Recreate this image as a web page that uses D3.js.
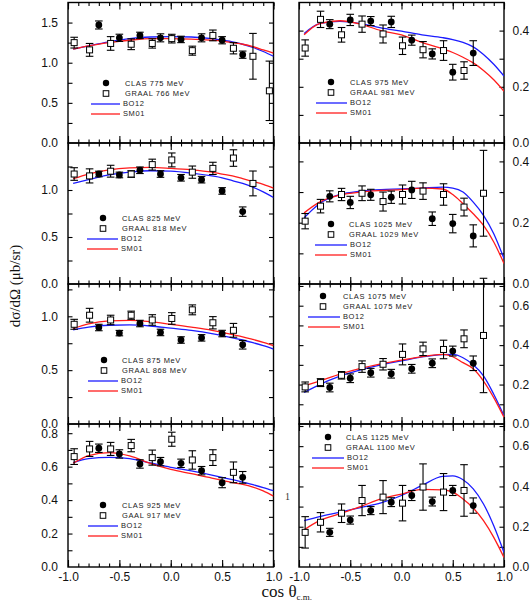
<!DOCTYPE html>
<html><head><meta charset="utf-8">
<script src="https://cdn.jsdelivr.net/npm/d3@7/dist/d3.min.js"></script>
<style>body{margin:0;background:#fff}svg{display:block}</style>
</head><body>
<script>
// ---------------- DATA ----------------
const cosClas  = [-0.7,-0.5,-0.3,-0.1,0.1,0.3,0.5,0.7];
const cosGraal = [-0.94,-0.79,-0.585,-0.385,-0.18,0.01,0.21,0.41,0.61,0.80,0.96];
const cosCurve = [-0.95,-0.8,-0.6,-0.4,-0.2,0,0.2,0.4,0.5,0.6,0.7,0.8,0.9,1.0];

const clasLabels  = ["CLAS 775 MeV","CLAS 825 MeV","CLAS 875 MeV","CLAS 925 MeV","CLAS 975 MeV","CLAS 1025 MeV","CLAS 1075 MeV","CLAS 1125 MeV"];
const graalLabels = ["GRAAL 766 MeV","GRAAL 818 MeV","GRAAL 868 MeV","GAAL 917 MeV","GRAAL 981 MeV","GRAAL 1029 MeV","GRAAL 1075 MeV","GRAAL 1100 MeV"];
const modelLabels = ["BO12","SM01"];

const clas775  = [1.47,1.31,1.34,1.31,1.29,1.31,1.28,1.10];
const clas825  = [1.17,1.16,1.21,1.17,1.13,1.11,0.99,0.77];
const clas875  = [0.896,0.844,0.933,0.85,0.78,0.80,0.84,0.736];
const clas925  = [0.71,0.676,0.616,0.63,0.62,0.576,0.504,0.536];
const clas975  = [0.423,0.438,0.434,0.431,0.366,0.317,0.252,0.320];
const clas1025 = [0.286,0.266,0.291,0.283,0.307,0.213,0.197,0.157];
const clas1075 = [0.185,0.232,0.26,0.255,0.28,0.308,0.37,0.308];
const clas1125 = [0.172,0.233,0.28,0.322,0.355,0.325,0.38,0.305];

const clasErr775  = [0.05,0.045,0.04,0.05,0.04,0.05,0.045,0.045];
const clasErr825  = [0.03,0.03,0.035,0.035,0.035,0.035,0.035,0.05];
const clasErr875  = [0.03,0.025,0.03,0.03,0.03,0.03,0.03,0.04];
const clasErr925  = [0.025,0.025,0.025,0.025,0.025,0.025,0.03,0.035];
const clasErr975  = [0.016,0.02,0.016,0.02,0.018,0.018,0.028,0.044];
const clasErr1025 = [0.018,0.02,0.018,0.02,0.028,0.022,0.03,0.036];
const clasErr1075 = [0.022,0.022,0.022,0.022,0.022,0.022,0.025,0.037];
const clasErr1125 = [0.02,0.02,0.02,0.022,0.025,0.022,0.025,0.038];

const graal766  = [1.25,1.16,1.24,1.23,1.24,1.30,1.15,1.34,1.18,1.08,0.65];
const graal818  = [1.17,1.15,1.20,1.17,1.27,1.32,1.19,1.23,1.34,1.07];
const graal868  = [0.926,1.01,0.966,1.01,0.966,0.98,1.06,0.94,0.87];
const graal917  = [0.66,0.706,0.706,0.726,0.654,0.764,0.64,0.654,0.566];
const graal981  = [0.338,0.44,0.385,0.423,0.388,0.346,0.332,0.329,0.258];
const graal1029 = [0.205,0.254,0.292,0.296,0.269,0.292,0.303,0.292,0.251,0.296];
const graal1075 = [0.188,0.21,0.247,0.291,0.303,0.353,0.381,0.378,0.432,0.449];
const graal1100 = [0.172,0.222,0.267,0.33,0.347,0.317,0.397,0.372,0.38];

const graalErr766  = [0.067,0.08,0.085,0.067,0.058,0.054,0.056,0.067,0.07,0.285,0.37];
const graalErr818  = [0.067,0.075,0.063,0.035,0.058,0.074,0.065,0.065,0.088,0.132];
const graalErr868  = [0.046,0.064,0.044,0.038,0.049,0.054,0.046,0.057,0.064];
const graalErr917  = [0.047,0.045,0.039,0.037,0.045,0.042,0.055,0.047,0.062];
const graalErr981  = [0.029,0.029,0.026,0.029,0.032,0.031,0.029,0.035,0.031];
const graalErr1029 = [0.025,0.022,0.02,0.024,0.031,0.031,0.027,0.035,0.029,0.14];
const graalErr1075 = [0.025,0.02,0.019,0.029,0.029,0.053,0.034,0.047,0.045,0.29];
const graalErr1100 = [0.078,0.048,0.046,0.075,0.082,0.088,0.115,0.092,0.128];

const bo775  = [1.17,1.21,1.26,1.30,1.32,1.325,1.32,1.30,1.28,1.26,1.23,1.19,1.14,1.08];
const sm775  = [1.17,1.21,1.25,1.28,1.30,1.30,1.295,1.28,1.27,1.25,1.23,1.20,1.16,1.12];
const bo825  = [1.07,1.11,1.16,1.19,1.205,1.20,1.18,1.15,1.13,1.10,1.07,1.03,0.98,0.92];
const sm825  = [1.12,1.17,1.215,1.235,1.24,1.23,1.215,1.19,1.17,1.15,1.12,1.09,1.06,1.02];
const bo875  = [0.874,0.90,0.917,0.92,0.91,0.89,0.87,0.84,0.82,0.80,0.78,0.755,0.727,0.696];
const sm875  = [0.886,0.93,0.958,0.962,0.95,0.926,0.90,0.87,0.85,0.83,0.81,0.785,0.758,0.727];
const bo925  = [0.624,0.648,0.656,0.648,0.622,0.596,0.575,0.55,0.536,0.522,0.508,0.492,0.475,0.456];
const sm925  = [0.62,0.666,0.684,0.664,0.62,0.584,0.558,0.532,0.518,0.505,0.494,0.478,0.455,0.424];
const bo975  = [0.39,0.425,0.433,0.425,0.41,0.398,0.385,0.375,0.368,0.358,0.342,0.315,0.28,0.238];
const sm975  = [0.385,0.425,0.435,0.423,0.40,0.385,0.358,0.335,0.322,0.305,0.285,0.258,0.225,0.184];
const bo1025 = [0.216,0.262,0.292,0.303,0.308,0.31,0.313,0.316,0.313,0.30,0.267,0.224,0.164,0.083];
const sm1025 = [0.232,0.267,0.29,0.30,0.305,0.308,0.313,0.31,0.292,0.262,0.229,0.191,0.137,0.067];
const bo1075 = [0.16,0.20,0.243,0.275,0.30,0.32,0.34,0.352,0.353,0.336,0.30,0.244,0.151,0.042];
const sm1075 = [0.193,0.218,0.253,0.282,0.305,0.324,0.342,0.353,0.341,0.311,0.28,0.218,0.134,0.034];
const bo1125 = [0.23,0.25,0.272,0.295,0.318,0.355,0.405,0.45,0.452,0.433,0.388,0.313,0.205,0.072];
const sm1125 = [0.185,0.23,0.265,0.30,0.338,0.362,0.385,0.383,0.372,0.338,0.293,0.23,0.147,0.047];

const yMax = [1.75,1.5,1.3,0.855, 0.5,0.46,0.71,0.71];
const xTickValues = [-1,-0.5,0,0.5,1];
const xTickLabels = ["-1.0","-0.5","0.0","0.5","1.0"];

// ---------------- LAYOUT ----------------
const W = 532, H = 615;
const colX = [[68,273.5],[299,504]];
const rowY = [[2.5,143],[143,284],[284,424],[424,567]];
const legendPos = [
  {cx:38,cy:80.5,tx:57,l1:[23,52]},{cx:35,cy:75,tx:54,l1:[19,50]},
  {cx:36,cy:76,tx:54,l1:[20,50]},{cx:35,cy:81,tx:54,l1:[20,50]},
  {cx:32,cy:79.5,tx:51,l1:[17,48]},{cx:32,cy:81,tx:50,l1:[16,48]},
  {cx:24,cy:12,tx:44,l1:[9,41]},{cx:29,cy:13,tx:47,l1:[13,45]}
];
const BLUE = "#1c1cff", RED = "#ff1c1c";

const clasAll = [clas775,clas825,clas875,clas925,clas975,clas1025,clas1075,clas1125];
const clasErrAll = [clasErr775,clasErr825,clasErr875,clasErr925,clasErr975,clasErr1025,clasErr1075,clasErr1125];
const graalAll = [graal766,graal818,graal868,graal917,graal981,graal1029,graal1075,graal1100];
const graalErrAll = [graalErr766,graalErr818,graalErr868,graalErr917,graalErr981,graalErr1029,graalErr1075,graalErr1100];
const boAll = [bo775,bo825,bo875,bo925,bo975,bo1025,bo1075,bo1125];
const smAll = [sm775,sm825,sm875,sm925,sm975,sm1025,sm1075,sm1125];

const svg = d3.select("body").append("svg").attr("width",W).attr("height",H);
const fmt = d => (d<0?"-":"") + Math.abs(d).toFixed(1);
const tickFont = "'Liberation Sans', Arial, sans-serif";

for (let i=0;i<8;i++){
  const col = i<4?0:1, row = i%4;
  const [x0,x1] = colX[col], [y0,y1] = rowY[row];
  const x = d3.scaleLinear().domain([-1,1]).range([x0,x1]);
  const y = d3.scaleLinear().domain([0,yMax[i]]).range([y1,y0]);
  const g = svg.append("g");
  const fine = (col===1 || row===3);
  const minorStep = fine?0.1:0.25, labStep = fine?0.2:0.5;
  const yTicks = d3.range(0, yMax[i]-0.005, minorStep).map(v=>+v.toFixed(3)).filter(v=>v>0);
  const yLabs = d3.range(0, yMax[i]-0.02, labStep).map(v=>+v.toFixed(3));
  const xMinor = d3.range(-1,1.0001,0.1).map(v=>+v.toFixed(2));

  const clean = sel => { sel.select(".domain").remove(); sel.selectAll("line").attr("stroke","#000").attr("stroke-width",1.1); };
  g.append("g").attr("transform",`translate(${x0},0)`).call(d3.axisLeft(y).tickValues(yTicks).tickSize(-4.5).tickFormat("")).call(clean);
  g.append("g").attr("transform",`translate(${x1},0)`).call(d3.axisRight(y).tickValues(yTicks).tickSize(-4.5).tickFormat("")).call(clean);
  [[d3.axisBottom,y1],[d3.axisTop,y0]].forEach(([ax,yy])=>{
    g.append("g").attr("transform",`translate(0,${yy})`).call(ax(x).tickValues(xMinor).tickSize(-3.5).tickFormat("")).call(clean);
    g.append("g").attr("transform",`translate(0,${yy})`).call(ax(x).tickValues(xTickValues).tickSize(-7).tickFormat("")).call(clean);
  });
  const yl = g.append("g");
  if (col===0) yl.attr("transform",`translate(${x0},0)`).call(d3.axisLeft(y).tickValues(yLabs).tickSize(0).tickPadding(10).tickFormat(fmt));
  else yl.attr("transform",`translate(${x1},0)`).call(d3.axisRight(y).tickValues(yLabs).tickSize(0).tickPadding(8.5).tickFormat(fmt));
  yl.select(".domain").remove();
  yl.selectAll("text").attr("font-size",12).attr("font-family",tickFont).attr("fill","#111");
  if (row===3){
    const xl = g.append("g").attr("transform",`translate(0,${y1})`)
      .call(d3.axisBottom(x).tickValues(xTickValues).tickSize(0).tickPadding(5).tickFormat((d,k)=>xTickLabels[k]));
    xl.select(".domain").remove();
    xl.selectAll("text").attr("font-size",12).attr("font-family",tickFont).attr("fill","#111");
  }
  g.append("rect").attr("x",x0).attr("y",y0).attr("width",x1-x0).attr("height",y1-y0)
    .attr("fill","none").attr("stroke","#000").attr("stroke-width",1.4);

  const clipId = "clip"+i;
  svg.append("clipPath").attr("id",clipId).append("rect").attr("x",x0).attr("y",y0).attr("width",x1-x0).attr("height",y1-y0);
  const line = d3.line().x(d=>x(d[0])).y(d=>y(d[1])).curve(d3.curveMonotoneX);
  g.append("path").datum(cosCurve.map((c,k)=>[c,boAll[i][k]])).attr("d",line)
    .attr("fill","none").attr("stroke",BLUE).attr("stroke-width",1.3).attr("clip-path",`url(#${clipId})`);
  g.append("path").datum(cosCurve.map((c,k)=>[c,smAll[i][k]])).attr("d",line)
    .attr("fill","none").attr("stroke",RED).attr("stroke-width",1.3).attr("clip-path",`url(#${clipId})`);

  const drawErr = (cs, vs, es) => {
    vs.forEach((v,k)=>{
      const cx = x(cs[k]), ya = y(v+es[k]), yb = y(v-es[k]);
      const eg = g.append("g").attr("stroke","#000").attr("stroke-width",1.1);
      eg.append("line").attr("x1",cx).attr("x2",cx).attr("y1",ya).attr("y2",yb);
      eg.append("line").attr("x1",cx-3.8).attr("x2",cx+3.8).attr("y1",ya).attr("y2",ya);
      eg.append("line").attr("x1",cx-3.8).attr("x2",cx+3.8).attr("y1",yb).attr("y2",yb);
    });
  };
  drawErr(cosGraal, graalAll[i], graalErrAll[i]);
  drawErr(cosClas, clasAll[i], clasErrAll[i]);
  g.selectAll(null).data(graalAll[i]).join("rect")
    .attr("x",(d,k)=>x(cosGraal[k])-3).attr("y",d=>y(d)-3).attr("width",6).attr("height",6)
    .attr("fill","#fff").attr("stroke","#000").attr("stroke-width",1);
  g.selectAll(null).data(clasAll[i]).join("circle")
    .attr("cx",(d,k)=>x(cosClas[k])).attr("cy",d=>y(d)).attr("r",3.4).attr("fill","#000");

  const L = legendPos[i], lx = x0, ly = y0;
  const lg = g.append("g").attr("transform",`translate(${lx},${ly})`);
  const tstyle = s => s.attr("font-size",7.5).attr("font-family",tickFont).attr("letter-spacing","0.6px").attr("fill","#222").attr("dominant-baseline","central");
  lg.append("circle").attr("cx",L.cx).attr("cy",L.cy).attr("r",3.2).attr("fill","#000");
  lg.append("text").attr("x",L.tx).attr("y",L.cy).text(clasLabels[i]).call(tstyle);
  lg.append("rect").attr("x",L.cx-2.8).attr("y",L.cy+10.5-2.8).attr("width",5.6).attr("height",5.6).attr("fill","#fff").attr("stroke","#000").attr("stroke-width",1);
  lg.append("text").attr("x",L.tx).attr("y",L.cy+10.5).text(graalLabels[i]).call(tstyle);
  lg.append("line").attr("x1",L.l1[0]).attr("x2",L.l1[1]).attr("y1",L.cy+21).attr("y2",L.cy+21).attr("stroke",BLUE).attr("stroke-width",1.3);
  lg.append("text").attr("x",L.l1[1]+3).attr("y",L.cy+20).text(modelLabels[0]).call(tstyle);
  lg.append("line").attr("x1",L.l1[0]).attr("x2",L.l1[1]).attr("y1",L.cy+31).attr("y2",L.cy+31).attr("stroke",RED).attr("stroke-width",1.3);
  lg.append("text").attr("x",L.l1[1]+3).attr("y",L.cy+30).text(modelLabels[1]).call(tstyle);
}

svg.append("text").attr("transform","translate(20,286) rotate(-90)").attr("text-anchor","middle")
  .attr("font-family","'Liberation Serif','Times New Roman',serif").attr("font-size",15).attr("fill","#111")
  .text("dσ/dΩ (μb/sr)");
const xt = svg.append("text").attr("x",261.5).attr("y",597)
  .attr("font-family","'Liberation Serif','Times New Roman',serif").attr("font-size",17).attr("fill","#111");
xt.append("tspan").text("cos θ");
xt.append("tspan").attr("font-size",9).attr("dy",3).text("c.m.");
svg.append("text").attr("x",285).attr("y",500).attr("font-family","'Liberation Serif',serif").attr("font-size",10).attr("fill","#333").text("1");
</script>
</body></html>
